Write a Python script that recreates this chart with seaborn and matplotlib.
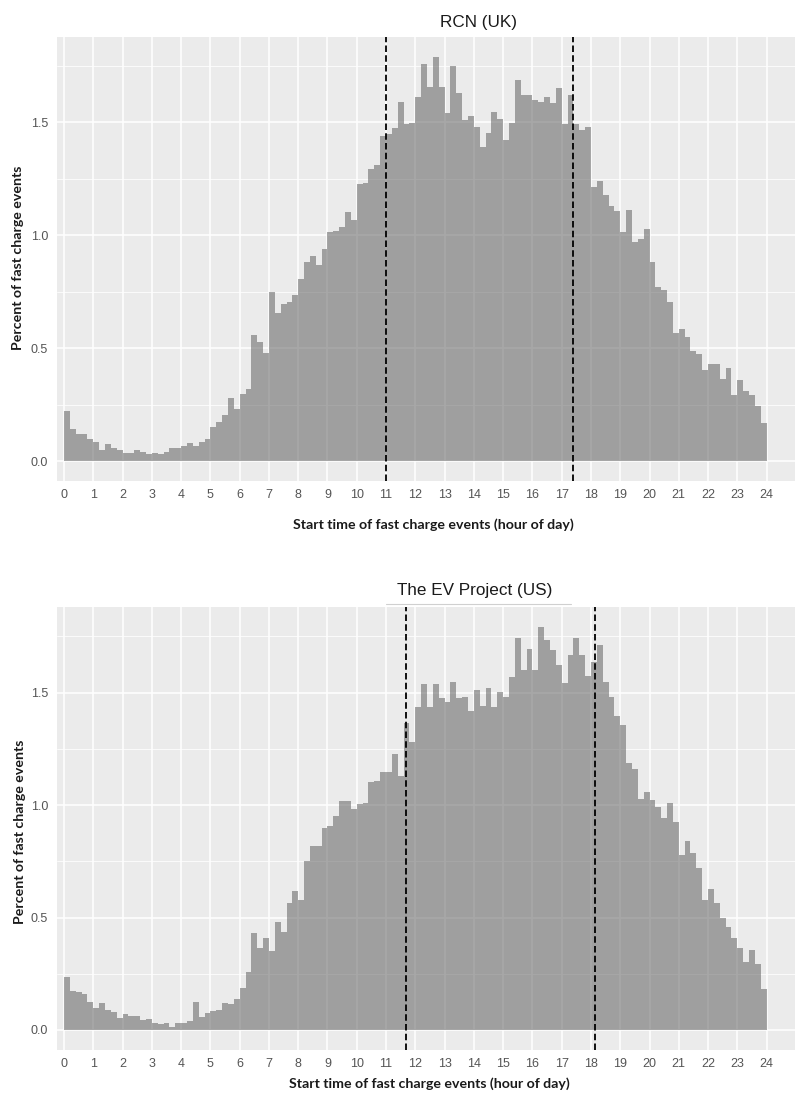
import numpy as np
import pandas as pd
import matplotlib
matplotlib.use("Agg")
import matplotlib.pyplot as plt
from matplotlib.lines import Line2D
import seaborn as sns

# ---------------- data ----------------
bin_width = 0.2
start_hour = np.round(np.arange(0, 24, bin_width), 1)

rcn_uk = [
    0.223, 0.142, 0.122, 0.122, 0.099, 0.086, 0.049, 0.074, 0.060, 0.049,
    0.038, 0.038, 0.049, 0.041, 0.031, 0.038, 0.031, 0.041, 0.056, 0.056,
    0.069, 0.078, 0.069, 0.086, 0.099, 0.149, 0.173, 0.204, 0.279, 0.229,
    0.295, 0.317, 0.559, 0.528, 0.479, 0.749, 0.656, 0.695, 0.706, 0.737,
    0.807, 0.881, 0.906, 0.869, 0.938, 1.012, 1.019, 1.037, 1.100, 1.068,
    1.224, 1.232, 1.291, 1.311, 1.440, 1.445, 1.472, 1.590, 1.490, 1.494,
    1.612, 1.757, 1.656, 1.786, 1.656, 1.538, 1.749, 1.630, 1.509, 1.527,
    1.478, 1.391, 1.453, 1.546, 1.512, 1.420, 1.494, 1.686, 1.619, 1.619,
    1.597, 1.590, 1.612, 1.583, 1.650, 1.490, 1.619, 1.490, 1.465, 1.478,
    1.211, 1.240, 1.177, 1.128, 1.108, 1.015, 1.111, 0.969, 0.981, 1.029,
    0.881, 0.771, 0.757, 0.705, 0.565, 0.583, 0.550, 0.488, 0.473, 0.403,
    0.428, 0.428, 0.364, 0.410, 0.291, 0.358, 0.310, 0.291, 0.245, 0.167,
]

ev_project_us = [
    0.237, 0.175, 0.169, 0.160, 0.125, 0.099, 0.119, 0.089, 0.080, 0.055,
    0.070, 0.064, 0.064, 0.044, 0.050, 0.033, 0.027, 0.033, 0.015, 0.033,
    0.033, 0.040, 0.126, 0.059, 0.074, 0.084, 0.089, 0.119, 0.114, 0.139,
    0.188, 0.256, 0.430, 0.363, 0.411, 0.351, 0.482, 0.437, 0.563, 0.618,
    0.578, 0.753, 0.818, 0.818, 0.900, 0.909, 0.952, 1.020, 1.020, 0.983,
    1.003, 1.008, 1.103, 1.109, 1.146, 1.146, 1.226, 1.129, 1.364, 1.281,
    1.438, 1.537, 1.438, 1.537, 1.475, 1.460, 1.549, 1.478, 1.482, 1.418,
    1.512, 1.441, 1.519, 1.438, 1.504, 1.482, 1.567, 1.744, 1.601, 1.693,
    1.601, 1.790, 1.734, 1.690, 1.623, 1.541, 1.667, 1.744, 1.667, 1.574,
    1.638, 1.712, 1.549, 1.482, 1.396, 1.356, 1.189, 1.162, 1.026, 1.058,
    1.023, 0.993, 0.944, 1.008, 0.926, 0.778, 0.840, 0.786, 0.722, 0.578,
    0.628, 0.566, 0.497, 0.456, 0.408, 0.366, 0.304, 0.356, 0.292, 0.181,
]

rcn_peak_bounds = [11.0, 17.4]
ev_peak_bounds = [11.68, 18.13]

hour_ticks = list(range(0, 25))
y_major = [0.0, 0.5, 1.0, 1.5]
y_major_labels = ["0.0", "0.5", "1.0", "1.5"]
y_minor = [0.25, 0.75, 1.25, 1.75]

titles = ["RCN (UK)", "The EV Project (US)"]
x_label = "Start time of fast charge events (hour of day)"
y_label = "Percent of fast charge events"

# ---------------- style ----------------
sns.set_theme(style="darkgrid", rc={
    "axes.facecolor": "#EBEBEB",
    "grid.color": "white",
    "axes.edgecolor": "#EBEBEB",
})
plt.rcParams["font.family"] = ["Liberation Sans", "DejaVu Sans"]

W, H = 795, 1093
fig = plt.figure(figsize=(W / 100, H / 100), dpi=100)
fig.patch.set_facecolor("white")


def px_axes(left, top, right, bottom):
    return fig.add_axes([left / W, 1 - bottom / H, (right - left) / W, (bottom - top) / H])


panels = [
    dict(values=rcn_uk, bounds=rcn_peak_bounds, box=(56.7, 37.3, 795, 481),
         ylim=(-0.088, 1.875), title=titles[0], title_xy=(478, 23),
         xlab_xy=(433, 525), ylab_xy=(18, 258)),
    dict(values=ev_project_us, bounds=ev_peak_bounds, box=(56.7, 607.3, 795, 1050),
         ylim=(-0.089, 1.879), title=titles[1], title_xy=(475, 590),
         xlab_xy=(429, 1084), ylab_xy=(20, 832)),
]

for p in panels:
    left, top, right, bottom = p["box"]
    ax = px_axes(left, top, right, bottom)
    df = pd.DataFrame({"hour": start_hour + bin_width / 2, "pct": p["values"]})
    sns.histplot(data=df, x="hour", weights="pct", binwidth=bin_width, binrange=(0, 24),
                 color="#595959", alpha=0.52, linewidth=0, edgecolor="none", ax=ax)
    for b in p["bounds"]:
        ax.axvline(b, color="black", lw=1.3, ls=(0, (3.6, 1.8)), zorder=5)

    ax.set_xlim(-0.25, 24.97)
    ax.set_ylim(*p["ylim"])
    ax.set_xticks(hour_ticks)
    ax.set_xticklabels([str(h) for h in hour_ticks])
    ax.set_yticks(y_major)
    ax.set_yticklabels(y_major_labels)
    ax.set_yticks(y_minor, minor=True)
    ax.grid(which="major", axis="both", color="white", lw=1.1)
    ax.grid(which="minor", axis="y", color="white", lw=0.55)
    ax.grid(which="minor", axis="x", visible=False)
    ax.set_axisbelow(True)
    for s in ax.spines.values():
        s.set_visible(False)
    ax.tick_params(axis="both", which="major", length=3, width=0.8, color="#333333",
                   labelsize=9, labelcolor="#555555", pad=2.5)
    ax.tick_params(axis="both", which="minor", length=0)
    ax.tick_params(axis="y", pad=3.2)

    ax.set_xlabel(x_label, fontsize=10.2, fontweight="bold", family=["Lato", "DejaVu Sans"],
                  color="#1a1a1a")
    ax.set_ylabel(y_label, fontsize=10.2, fontweight="bold", family=["Lato", "DejaVu Sans"],
                  color="#1a1a1a")
    xl, yt = p["xlab_xy"]
    ax.xaxis.set_label_coords((xl - left) / (right - left), (bottom - yt) / (bottom - top))
    ax.xaxis.label.set_va("center")
    yl_x, yl_y = p["ylab_xy"]
    ax.yaxis.set_label_coords((yl_x - left) / (right - left), (bottom - yl_y) / (bottom - top))
    ax.yaxis.label.set_va("center")

    tx, ty = p["title_xy"]
    fig.text(tx / W, 1 - ty / H, p["title"], ha="center", va="center",
             fontsize=12.3, color="#1a1a1a")

# faint rule under the second title
fig.add_artist(Line2D([386 / W, 571 / W], [1 - 604 / H, 1 - 604 / H],
                      color="#d0d0d0", lw=0.8))

fig.savefig("out.png", dpi=100, facecolor="white")
